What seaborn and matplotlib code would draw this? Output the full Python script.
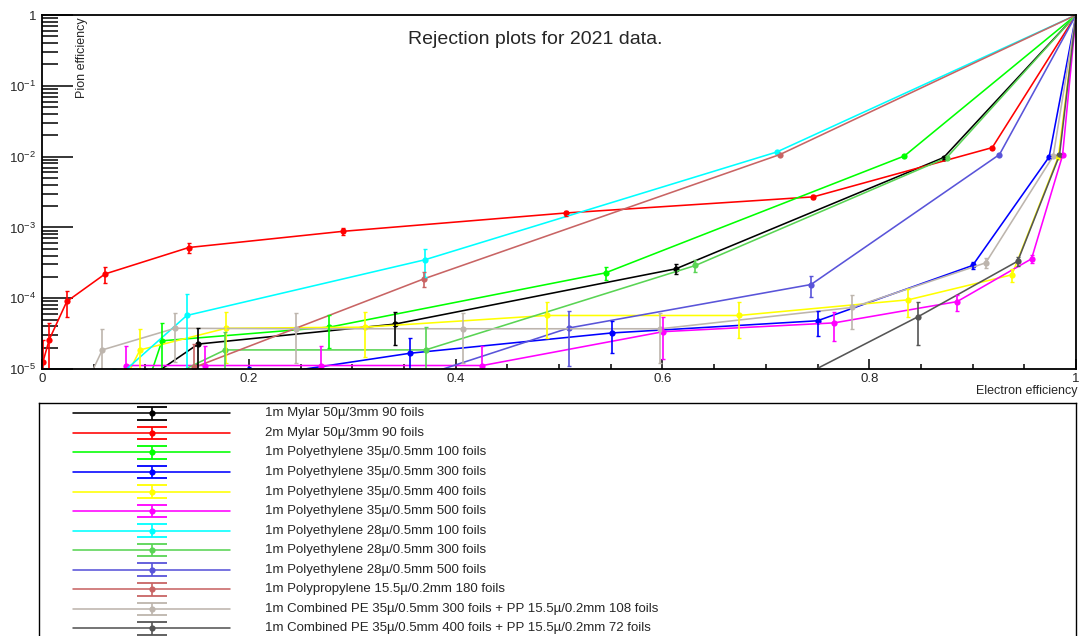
import matplotlib
matplotlib.use("Agg")
import matplotlib.pyplot as plt
import matplotlib.ticker as mticker
import numpy as np
import pandas as pd
import seaborn as sns

sns.set_theme(style="white")
plt.rcParams["font.family"] = ["Liberation Sans", "DejaVu Sans"]
plt.rcParams["mathtext.fontset"] = "custom"
plt.rcParams["mathtext.rm"] = "Liberation Sans"
plt.rcParams["mathtext.it"] = "Liberation Sans:italic"
plt.rcParams["mathtext.bf"] = "Liberation Sans:bold"

# ---- data (electron efficiency, pion efficiency, pion efficiency error) ----
labels = [
    "1m Mylar 50µ/3mm 90 foils",
    "2m Mylar 50µ/3mm 90 foils",
    "1m Polyethylene 35µ/0.5mm 100 foils",
    "1m Polyethylene 35µ/0.5mm 300 foils",
    "1m Polyethylene 35µ/0.5mm 400 foils",
    "1m Polyethylene 35µ/0.5mm 500 foils",
    "1m Polyethylene 28µ/0.5mm 100 foils",
    "1m Polyethylene 28µ/0.5mm 300 foils",
    "1m Polyethylene 28µ/0.5mm 500 foils",
    "1m Polypropylene 15.5µ/0.2mm 180 foils",
    "1m Combined PE 35µ/0.5mm 300 foils + PP 15.5µ/0.2mm 108 foils",
    "1m Combined PE 35µ/0.5mm 400 foils + PP 15.5µ/0.2mm 72 foils",
]
colors = ["#000000", "#ff0000", "#00ff00", "#0000ff", "#ffff00", "#ff00ff",
          "#00ffff", "#59d454", "#5954d9", "#c86464", "#bdb5ad", "#555555"]

mylar1_x = [0.10, 0.151, 0.341, 0.613, 0.872, 1.0]
mylar1_y = [7e-6, 2.25e-5, 4.3e-5, 2.6e-4, 9.7e-3, 1.0]
mylar1_e = [3e-6, 1.5e-5, 2.1e-5, 4e-5, 3e-4, 0]

mylar2_x = [0.001, 0.007, 0.024, 0.061, 0.142, 0.291, 0.507, 0.746, 0.919, 1.0]
mylar2_y = [1.27e-5, 2.6e-5, 9.0e-5, 2.2e-4, 5.2e-4, 8.8e-4, 1.6e-3, 2.7e-3, 1.34e-2, 1.0]
mylar2_e = [1.3e-5, 1.8e-5, 3.5e-5, 5.4e-5, 8e-5, 1e-4, 1.3e-4, 1.7e-4, 4e-4, 0]

pe35_100_x = [0.10, 0.116, 0.278, 0.545, 0.834, 1.0]
pe35_100_y = [5e-6, 2.5e-5, 3.9e-5, 2.28e-4, 1.02e-2, 1.0]
pe35_100_e = [3e-6, 1.9e-5, 1.9e-5, 4.5e-5, 3e-4, 0]

pe35_300_x = [0.2, 0.356, 0.551, 0.750, 0.900, 0.974, 1.0]
pe35_300_y = [7.6e-6, 1.67e-5, 3.23e-5, 4.8e-5, 2.9e-4, 9.9e-3, 1.0]
pe35_300_e = [3e-6, 1.1e-5, 1.55e-5, 1.9e-5, 3e-5, 3e-4, 0]

pe35_400_x = [0.08, 0.0948, 0.178, 0.312, 0.488, 0.674, 0.838, 0.938, 0.983, 1.0]
pe35_400_y = [7e-6, 1.86e-5, 3.76e-5, 3.9e-5, 5.7e-5, 5.7e-5, 9.5e-5, 2.14e-4, 1.0e-2, 1.0]
pe35_400_e = [3e-6, 1.8e-5, 2.55e-5, 2.4e-5, 3e-5, 3e-5, 4e-5, 4.6e-5, 3e-4, 0]

pe35_500_x = [0.081, 0.158, 0.270, 0.426, 0.601, 0.766, 0.885, 0.957, 0.987, 1.0]
pe35_500_y = [1.12e-5, 1.12e-5, 1.12e-5, 1.12e-5, 3.37e-5, 4.48e-5, 8.95e-5, 3.6e-4, 1.04e-2, 1.0]
pe35_500_e = [1e-5, 1e-5, 1e-5, 1e-5, 2e-5, 2e-5, 2.3e-5, 5e-5, 3e-4, 0]

pe28_100_x = [0.07, 0.140, 0.370, 0.7105, 1.0]
pe28_100_y = [7e-6, 5.7e-5, 3.48e-4, 1.16e-2, 1.0]
pe28_100_e = [3e-6, 5.8e-5, 1.5e-4, 3e-4, 0]

pe28_300_x = [0.12, 0.177, 0.371, 0.632, 0.875, 1.0]
pe28_300_y = [7.4e-6, 1.86e-5, 1.86e-5, 2.9e-4, 9.7e-3, 1.0]
pe28_300_e = [3e-6, 1.5e-5, 2e-5, 5.5e-5, 3e-4, 0]

pe28_500_x = [0.35, 0.5097, 0.7437, 0.926, 1.0]
pe28_500_y = [6.6e-6, 3.8e-5, 1.56e-4, 1.07e-2, 1.0]
pe28_500_e = [3e-6, 2.7e-5, 5.3e-5, 3e-4, 0]

pp_180_x = [0.12, 0.147, 0.3695, 0.7137, 1.0]
pp_180_y = [5e-6, 1.05e-5, 1.88e-4, 1.07e-2, 1.0]
pp_180_e = [3e-6, 1.2e-5, 4.5e-5, 3e-4, 0]

comb300_x = [0.04, 0.0583, 0.1286, 0.2456, 0.4075, 0.598, 0.7837, 0.9127, 0.978, 1.0]
comb300_y = [5e-6, 1.86e-5, 3.76e-5, 3.7e-5, 3.7e-5, 3.7e-5, 7.4e-5, 3.16e-4, 1.02e-2, 1.0]
comb300_e = [3e-6, 1.8e-5, 2.5e-5, 2.5e-5, 2.5e-5, 2.5e-5, 3.7e-5, 5e-5, 3e-4, 0]

comb400_x = [0.70, 0.8475, 0.9436, 0.984, 1.0]
comb400_y = [4.3e-6, 5.5e-5, 3.33e-4, 1.04e-2, 1.0]
comb400_e = [2e-6, 3.3e-5, 5e-5, 3e-4, 0]

series = [
    (mylar1_x, mylar1_y, mylar1_e),
    (mylar2_x, mylar2_y, mylar2_e),
    (pe35_100_x, pe35_100_y, pe35_100_e),
    (pe35_300_x, pe35_300_y, pe35_300_e),
    (pe35_400_x, pe35_400_y, pe35_400_e),
    (pe35_500_x, pe35_500_y, pe35_500_e),
    (pe28_100_x, pe28_100_y, pe28_100_e),
    (pe28_300_x, pe28_300_y, pe28_300_e),
    (pe28_500_x, pe28_500_y, pe28_500_e),
    (pp_180_x, pp_180_y, pp_180_e),
    (comb300_x, comb300_y, comb300_e),
    (comb400_x, comb400_y, comb400_e),
]

frames = []
for lab, (xs, ys, es) in zip(labels, series):
    frames.append(pd.DataFrame({"setup": lab, "e_eff": xs, "pi_eff": ys, "err": es}))
df = pd.concat(frames, ignore_index=True)

# ---- figure ----
W, H = 1079, 636
fig = plt.figure(figsize=(W / 100, H / 100), dpi=100)
ax = fig.add_axes([42 / W, 1 - 369 / H, 1034 / W, 354 / H])
ax.set_yscale("log")

sns.lineplot(data=df, x="e_eff", y="pi_eff", hue="setup", hue_order=labels,
             palette=dict(zip(labels, colors)), estimator=None, sort=False,
             marker="o", markersize=4.5, markeredgewidth=0, linewidth=1.15,
             legend=False, ax=ax)

for lab, c in zip(labels, colors):
    sub = df[df["setup"] == lab]
    ax.errorbar(sub["e_eff"], sub["pi_eff"], yerr=sub["err"], fmt="none",
                ecolor=c, elinewidth=1.2, capsize=1.5, capthick=1.0)

ax.set_xlim(0, 1)
ax.set_ylim(1e-5, 1)
ax.set_xlabel("")
ax.set_ylabel("")

ax.set_xticks([0, 0.2, 0.4, 0.6, 0.8, 1.0])
ax.set_xticklabels(["0", "0.2", "0.4", "0.6", "0.8", "1"])
ax.xaxis.set_minor_locator(mticker.MultipleLocator(0.05))
ax.yaxis.set_major_locator(mticker.LogLocator(base=10, numticks=10))
ax.yaxis.set_minor_locator(mticker.LogLocator(base=10, subs=np.arange(2, 10), numticks=20))
ax.yaxis.set_minor_formatter(mticker.NullFormatter())
ax.yaxis.set_major_formatter(mticker.FuncFormatter(
    lambda v, p: "1" if abs(v - 1) < 1e-9 else r"$10^{%d}$" % int(round(np.log10(v)))))

ax.tick_params(axis="x", which="major", direction="in", length=7.2, width=1.1,
               labelsize=9.5, pad=3, bottom=True, top=False, color="black")
ax.tick_params(axis="x", which="minor", direction="in", length=3.6, width=1.1,
               bottom=True, top=False, color="black")
ax.tick_params(axis="y", which="major", direction="in", length=22, width=1.1,
               labelsize=9.5, pad=4, left=True, right=False, color="black")
ax.tick_params(axis="y", which="minor", direction="in", length=11.5, width=1.1,
               left=True, right=False, color="black")
ax.grid(False)
for s in ax.spines.values():
    s.set_color("black")
    s.set_linewidth(1.3)

fig.text(535 / W, 1 - 39 / H, "Rejection plots for 2021 data.", ha="center",
         va="center", fontsize=14)
fig.text(81.5 / W, 1 - 17 / H, "Pion efficiency", rotation=90, ha="center",
         va="top", fontsize=9)
fig.text(1077 / W, 1 - 391 / H, "Electron efficiency", ha="right", va="center",
         fontsize=9)

# ---- legend box ----
lax = fig.add_axes([39 / W, 0, (1076 - 39) / W, (H - 403) / H])
lax.set_xlim(39, 1076)
lax.set_ylim(H, 403)
lax.set_xticks([])
lax.set_yticks([])
lax.set_facecolor("white")
for side, s in lax.spines.items():
    s.set_color("black")
    s.set_linewidth(1.0)
lax.spines["bottom"].set_visible(False)

for i, (lab, c) in enumerate(zip(labels, colors)):
    yy = 413.3 + i * 19.55
    lax.plot([73, 230], [yy, yy], color=c, lw=1.15)
    lax.errorbar([152], [yy], yerr=[6.3], fmt="none", ecolor=c,
                 elinewidth=1.2, capsize=10.8, capthick=1.3)
    lax.plot([152], [yy], "o", color=c, ms=4.5, mew=0)
    lax.text(265, yy, lab, va="center", ha="left", fontsize=9.5)

fig.savefig("out.png", dpi=100)
